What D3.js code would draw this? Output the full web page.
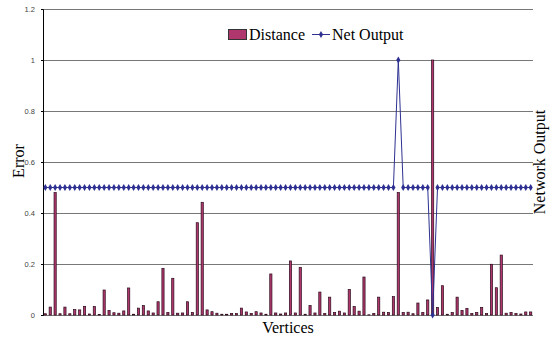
<!DOCTYPE html>
<html>
<head>
<meta charset="utf-8">
<script src="https://cdn.jsdelivr.net/npm/d3@7"></script>
<style>
  body { margin: 0; background: #fff; }
  svg { display: block; }
</style>
</head>
<body>
<div id="chart"></div>
<script>
// Distance per vertex (bars)
var distance = [
    0.005, 0.031, 0.48, 0.005, 0.031, 0.005, 0.021, 0.02, 0.034, 0.004,
    0.033, 0.002, 0.098, 0.018, 0.009, 0.007, 0.016, 0.106, 0.003, 0.027,
    0.037, 0.016, 0.008, 0.052, 0.183, 0.01, 0.144, 0.007, 0.008, 0.052,
    0.01, 0.362, 0.442, 0.02, 0.013, 0.007, 0.003, 0.003, 0.006, 0.006,
    0.027, 0.012, 0.006, 0.013, 0.008, 0.003, 0.161, 0.008, 0.004, 0.008,
    0.212, 0.008, 0.187, 0.003, 0.037, 0.008, 0.09, 0.006, 0.07, 0.01,
    0.015, 0.008, 0.1, 0.033, 0.015, 0.149, 0.001, 0.006, 0.07, 0.011,
    0.01, 0.072, 0.48, 0.01, 0.011, 0.005, 0.047, 0.01, 0.059, 1.0,
    0.03, 0.115, 0.003, 0.01, 0.07, 0.018, 0.026, 0.006, 0.01, 0.03,
    0.006, 0.199, 0.107, 0.235, 0.007, 0.01, 0.006, 0.004, 0.012, 0.012
];

// Network output per vertex (line)
var netOutput = distance.map(function () { return 0.5; });
netOutput[72] = 1;
netOutput[79] = 0;

var vertices = d3.range(distance.length);
var yTicks = [0, 0.2, 0.4, 0.6, 0.8, 1, 1.2];
var seriesNames = ["Distance", "Net Output"];

var barColor = "#b0376d", barEdge = "#2a0a1a", lineColor = "#2e3192";

var svg = d3.select("#chart").append("svg").attr("width", 551).attr("height", 340),
    margin = { top: 9, right: 18, bottom: 25, left: 43 },
    width = 551 - margin.left - margin.right,
    height = 340 - margin.top - margin.bottom,
    g = svg.append("g").attr("transform", "translate(" + margin.left + "," + margin.top + ")");

var x = d3.scaleBand().domain(vertices).range([0, width]).paddingInner(0.55).paddingOuter(0.25);
var y = d3.scaleLinear().domain([0, 1.2]).range([height, 0]);

// gridlines
g.append("g")
    .selectAll("line")
    .data(yTicks)
    .enter().append("line")
    .attr("x1", 0).attr("x2", width)
    .attr("y1", function (d) { return y(d) + 0.5; })
    .attr("y2", function (d) { return y(d) + 0.5; })
    .attr("stroke", "#777")
    .attr("stroke-width", 1);

// left axis
var yAxis = g.append("g")
    .call(d3.axisLeft(y).tickValues(yTicks).tickSize(2).tickPadding(6).tickFormat(d3.format("")));
yAxis.select(".domain").attr("stroke", "#000");
yAxis.selectAll(".tick line").attr("stroke", "#000");
yAxis.selectAll("text")
    .attr("font-family", "Liberation Sans, Arial, sans-serif")
    .attr("font-size", "7.5px")
    .attr("fill", "#444");

// bars
g.append("g")
    .selectAll("rect")
    .data(distance)
    .enter().append("rect")
    .attr("x", function (d, i) { return x(i); })
    .attr("y", function (d) { return y(d); })
    .attr("width", x.bandwidth())
    .attr("height", function (d) { return y(0) - y(d); })
    .attr("fill", barColor)
    .attr("stroke", barEdge)
    .attr("stroke-width", 0.7);

// net output line
var line = d3.line()
    .x(function (d, i) { return x(i) + x.bandwidth() / 2; })
    .y(function (d) { return y(d); });

g.append("path")
    .datum(netOutput)
    .attr("fill", "none")
    .attr("stroke", lineColor)
    .attr("stroke-width", 1)
    .attr("d", line);

g.append("g")
    .selectAll("path")
    .data(netOutput)
    .enter().append("path")
    .attr("transform", function (d, i) { return "translate(" + (x(i) + x.bandwidth() / 2) + "," + y(d) + ")"; })
    .attr("d", d3.symbol().type(d3.symbolDiamond).size(15))
    .attr("fill", lineColor);

// legend
var legend = svg.append("g").attr("font-family", "Liberation Serif, Times New Roman, serif").attr("font-size", "16px");
legend.append("rect")
    .attr("x", 228.5).attr("y", 29.5).attr("width", 18).attr("height", 10)
    .attr("fill", barColor).attr("stroke", "#333").attr("stroke-width", 1);
legend.append("text").attr("x", 249).attr("y", 39.5).text(seriesNames[0]);
legend.append("line")
    .attr("x1", 312).attr("x2", 330).attr("y1", 34.5).attr("y2", 34.5)
    .attr("stroke", lineColor).attr("stroke-width", 1);
legend.append("path")
    .attr("transform", "translate(321,34.5)")
    .attr("d", d3.symbol().type(d3.symbolDiamond).size(15))
    .attr("fill", lineColor);
legend.append("text").attr("x", 332).attr("y", 39.5).text(seriesNames[1]);

// axis titles
var titleFont = "Liberation Serif, Times New Roman, serif";
svg.append("text")
    .attr("transform", "translate(24,161) rotate(-90)")
    .attr("text-anchor", "middle")
    .attr("font-family", titleFont).attr("font-size", "16px")
    .text("Error");

svg.append("text")
    .attr("x", 288).attr("y", 333)
    .attr("text-anchor", "middle")
    .attr("font-family", titleFont).attr("font-size", "16px")
    .text("Vertices");

svg.append("text")
    .attr("transform", "translate(545,162) rotate(-90)")
    .attr("text-anchor", "middle")
    .attr("font-family", titleFont).attr("font-size", "16px")
    .text("Network Output");
</script>
</body>
</html>
